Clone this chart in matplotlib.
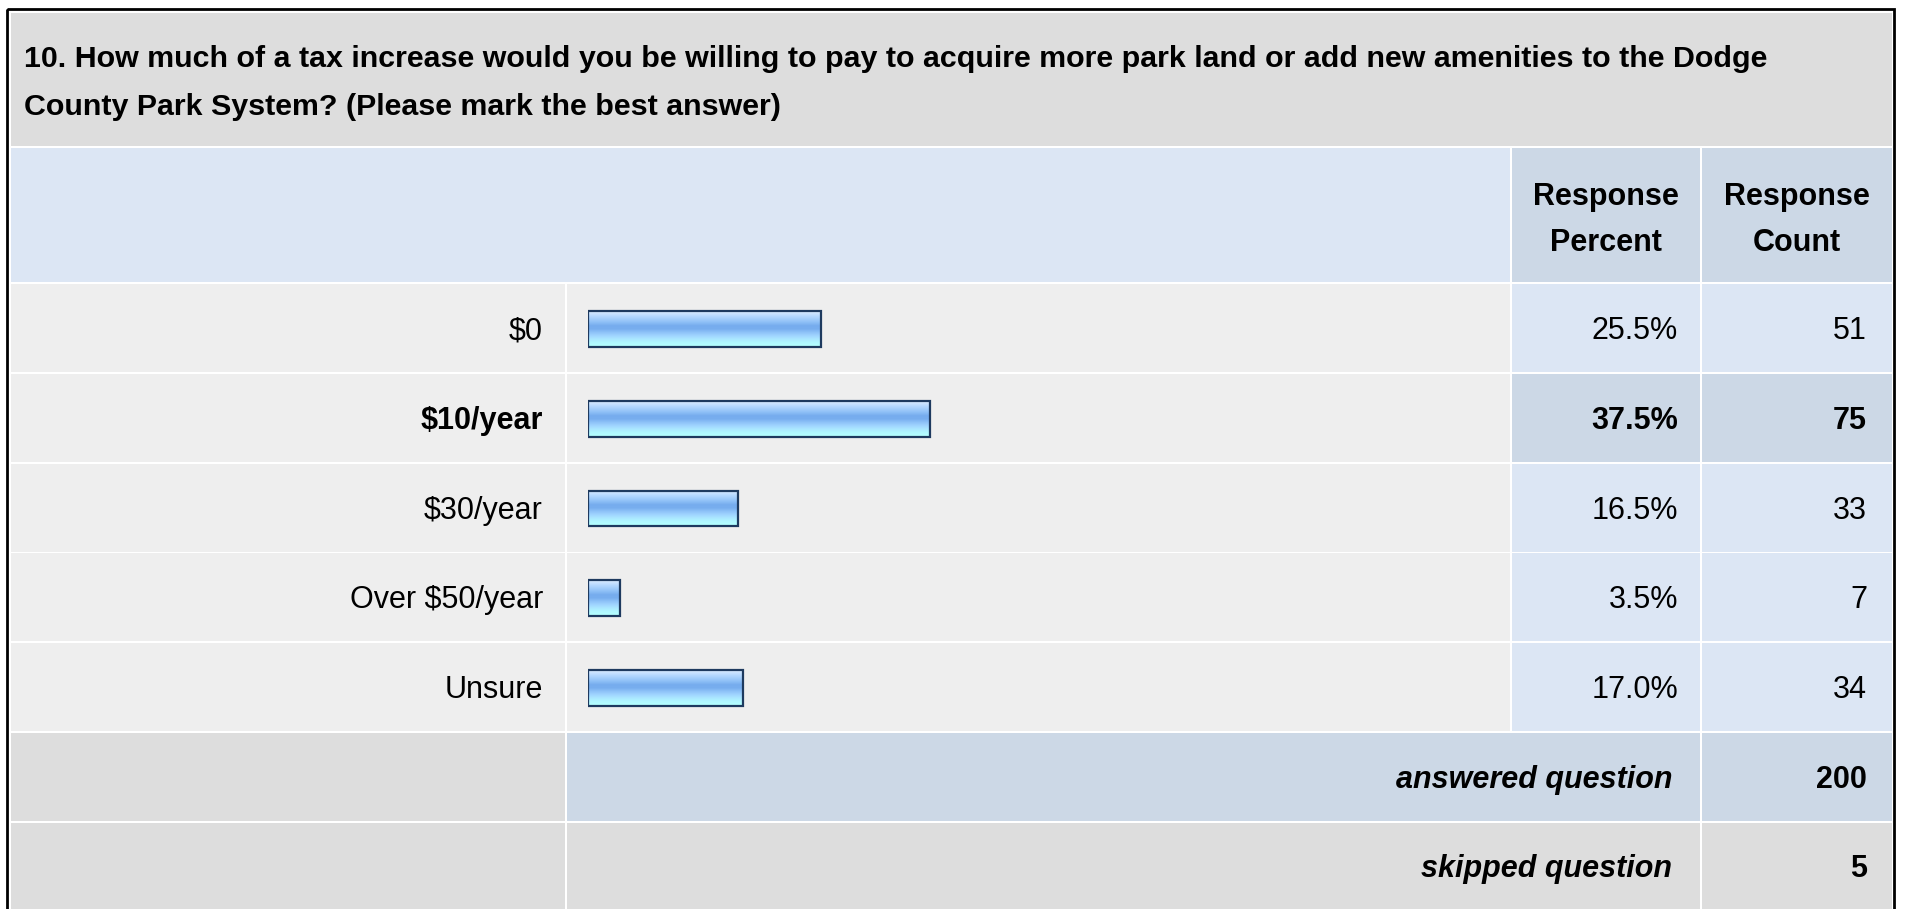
import matplotlib
matplotlib.use("Agg")
import matplotlib.pyplot as plt
from matplotlib.patches import Rectangle
from matplotlib.colors import to_rgb
import numpy as np

plt.rcParams['font.family'] = ['Liberation Sans', 'DejaVu Sans']

# ---- survey data ----
question_lines = [
    "10. How much of a tax increase would you be willing to pay to acquire more park land or add new amenities to the Dodge",
    "County Park System? (Please mark the best answer)",
]
answer_options = ["$0", "$10/year", "$30/year", "Over $50/year", "Unsure"]
response_percent = [25.5, 37.5, 16.5, 3.5, 17.0]
response_count = [51, 75, 33, 7, 34]
answered_total = 200
skipped_total = 5
highlight_row = 1  # most frequent answer is shown in bold

# ---- styling ----
W, H = 1907, 909
GRAY_BAND = "#DDDDDD"
ROW_GRAY = "#EEEEEE"
LIGHT_BLUE = "#DCE6F4"
MID_BLUE = "#CCD8E6"
BAR_EDGE = "#1E3A5F"
FS = 22
FS_TITLE = 21.9

fig = plt.figure(figsize=(W / 100, H / 100), dpi=100)
fig.patch.set_facecolor("white")
ax = fig.add_axes([0, 0, 1, 1])
ax.set_xlim(0, W)
ax.set_ylim(H, 0)
ax.axis("off")


def cell(x0, y0, x1, y1, color):
    ax.add_patch(Rectangle((x0, y0), x1 - x0, y1 - y0, facecolor=color,
                           edgecolor="none", zorder=1))


# column edges
L0, L1 = 11, 565        # label column
B0, B1 = 567, 1510      # bar column
P0, P1 = 1512, 1700     # percent column
C0, C1 = 1702, 1892     # count column

# title band and header
cell(L0, 13, C1, 146, GRAY_BAND)
cell(L0, 148, B1, 282, LIGHT_BLUE)
cell(P0, 148, P1, 282, MID_BLUE)
cell(C0, 148, C1, 282, MID_BLUE)

ax.text(24, 67, question_lines[0], fontsize=FS_TITLE, fontweight="bold",
        va="baseline", ha="left", zorder=3)
ax.text(24, 115, question_lines[1], fontsize=FS_TITLE, fontweight="bold",
        va="baseline", ha="left", zorder=3)

for cx, second in [((P0 + P1) / 2, "Percent"), ((C0 + C1) / 2, "Count")]:
    ax.text(cx, 205, "Response", fontsize=FS, fontweight="bold",
            ha="center", va="baseline", zorder=3)
    ax.text(cx, 251, second, fontsize=FS, fontweight="bold",
            ha="center", va="baseline", zorder=3)

# data rows
ROW_TOP = 284
ROW_STEP = 89.8
ROW_H = 88
for i, (lab, pct, cnt) in enumerate(zip(answer_options, response_percent, response_count)):
    y0 = ROW_TOP + i * ROW_STEP
    y1 = y0 + ROW_H
    hi = i == highlight_row
    cell(L0, y0, L1, y1, ROW_GRAY)
    cell(B0, y0, B1, y1, ROW_GRAY)
    cell(P0, y0, P1, y1, MID_BLUE if hi else LIGHT_BLUE)
    cell(C0, y0, C1, y1, MID_BLUE if hi else LIGHT_BLUE)
    yb = (y0 + y1) / 2 + 11
    w = "bold" if hi else "normal"
    ax.text(543, yb, lab, fontsize=FS, fontweight=w, ha="right", va="baseline", zorder=3)
    ax.text(1678, yb, f"{pct:.1f}%", fontsize=FS, fontweight=w, ha="right", va="baseline", zorder=3)
    ax.text(1867, yb, f"{cnt}", fontsize=FS, fontweight=w, ha="right", va="baseline", zorder=3)

# summary rows
ya0, ya1 = 733, 821
cell(L0, ya0, L1, ya1, GRAY_BAND)
cell(B0, ya0, P1, ya1, MID_BLUE)
cell(C0, ya0, C1, ya1, MID_BLUE)
ys0, ys1 = 823, H + 5
cell(L0, ys0, L1, ys1, GRAY_BAND)
cell(B0, ys0, P1, ys1, GRAY_BAND)
cell(C0, ys0, C1, ys1, GRAY_BAND)

for (y0, y1), label, val in [((ya0, ya1), "answered question", answered_total),
                             ((ys0, ys1 - 5), "skipped question", skipped_total)]:
    yb = (y0 + y1) / 2 + 11
    ax.text(1672, yb, label, fontsize=FS, fontweight="bold", fontstyle="italic",
            ha="right", va="baseline", zorder=3)
    ax.text(1867, yb, f"{val}", fontsize=FS, fontweight="bold",
            ha="right", va="baseline", zorder=3)

# outer frame
ax.add_patch(Rectangle((7, 9), 1887, H + 20, facecolor="none",
                       edgecolor="black", linewidth=2.0, zorder=4))

# ---- bar chart axes: 0..100 percent spanning the bar column ----
bx0, bx1 = 588, 1500
by0, by1 = ROW_TOP, ROW_TOP + 5 * ROW_STEP
bax = fig.add_axes([bx0 / W, 1 - by1 / H, (bx1 - bx0) / W, (by1 - by0) / H])
bax.set_facecolor("none")
bax.axis("off")

stops = ["#D2E7FF", "#B8DAFF", "#A2CDFB", "#8CBEF6", "#76ACEE", "#78AEEF",
         "#8EC2F8", "#A0D4FF", "#AAE6FF", "#B0F6FF", "#B4FFFF"]
grad = np.array([to_rgb(c) for c in stops])[:, None, :]

ypos = np.arange(len(answer_options))
bar_h = 0.40
bars = bax.barh(ypos, response_percent, height=bar_h, left=0,
                facecolor="none", edgecolor=BAR_EDGE, linewidth=1.6, zorder=3)
for b, yc, pct in zip(bars, ypos, response_percent):
    im = bax.imshow(grad, extent=(0, pct, yc + bar_h / 2, yc - bar_h / 2),
                    aspect="auto", interpolation="bilinear", zorder=2)
    im.set_clip_path(b)

bax.set_xlim(0, 100)
bax.set_ylim(len(answer_options) - 0.5, -0.5)

fig.savefig("out.png", dpi=100, facecolor="white")
